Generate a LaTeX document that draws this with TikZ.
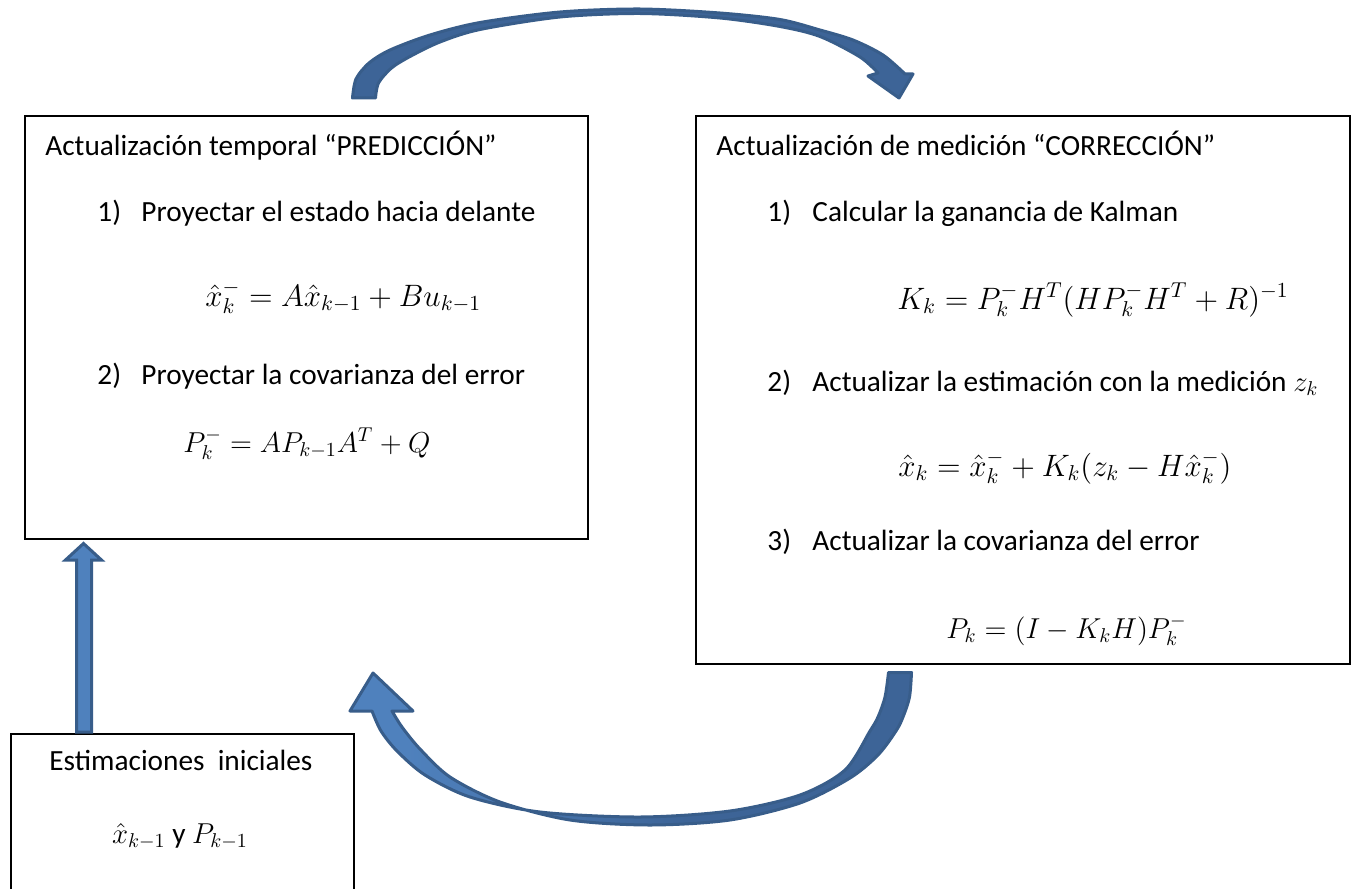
\documentclass[tikz,border=0pt]{standalone}
\usepackage[no-math]{fontspec}
\setmainfont{Carlito}[Scale=1.017]
\definecolor{arrowfill}{HTML}{4F81BD}
\definecolor{arrowdark}{HTML}{3D6497}
\definecolor{arrowline}{HTML}{385D8A}
\pgfdeclarehorizontalshading{topband}{100bp}{color(0bp)=(arrowdark); color(80bp)=(arrowdark); color(92bp)=(arrowfill); color(100bp)=(arrowfill)}
\pgfdeclarehorizontalshading{botband}{100bp}{color(0bp)=(arrowfill); color(30bp)=(arrowfill); color(55bp)=(arrowdark); color(100bp)=(arrowdark)}
\tikzset{
  box/.style={draw=black, line width=1.6pt, rectangle, inner sep=0pt, anchor=north west},
  txt/.style={anchor=base west, inner sep=0pt, scale=2, font=\fontsize{14.4}{17}\selectfont},
  ctxt/.style={anchor=base, inner sep=0pt, scale=2, font=\fontsize{14.4}{17}\selectfont},
  mth/.style={anchor=base west, inner sep=0pt, scale=2.15, font=\fontsize{14.4}{17}\selectfont},
  blockarrow/.style={draw=arrowline, line width=3pt, line join=round}
}
\begin{document}
\begin{tikzpicture}[x=1pt,y=-1pt]
\useasboundingbox (0,0) rectangle (1356,888);
\fill[white] (0,0) rectangle (1356,888);

% boxes
\node[box, minimum width=563pt, minimum height=423pt] (pred) at (24,115) {};
\node[box, minimum width=654pt, minimum height=548pt] (corr) at (695,115) {};
\node[box, minimum width=343pt, minimum height=170pt] (init) at (10,733) {};

% left box texts
\node[txt] (lt) at (45,155) {Actualización temporal “PREDICCIÓN”};
\node[txt] (l1n) at (97,221) {1)};
\node[txt] (l1) at (141,221) {Proyectar el estado hacia delante};
\node[mth] (lf1) at (205,306) {$\hat{x}_k^- = A\hat{x}_{k-1} + Bu_{k-1}$};
\node[txt] (l2n) at (97,384) {2)};
\node[txt] (l2) at (141,384) {Proyectar la covarianza del error};
\node[mth, scale=0.93] (lf2) at (183,452) {$P_k^- = AP_{k-1}A^T + Q$};

% right box texts
\node[txt] (rt) at (716,155) {Actualización de medición “CORRECCIÓN”};
\node[txt] (r1n) at (767,221) {1)};
\node[txt] (r1) at (812,221) {Calcular la ganancia de Kalman};
\node[mth] (rf1) at (897,309) {$K_k = P_k^- H^T(HP_k^- H^T + R)^{-1}$};
\node[txt] (r2n) at (767,391) {2)};
\node[txt] (r2) at (812,391) {Actualizar la estimación con la medición $z_k$};
\node[mth] (rf2) at (898,476) {$\hat{x}_k = \hat{x}_k^- + K_k(z_k - H\hat{x}_k^-)$};
\node[txt] (r3n) at (767,550) {3)};
\node[txt] (r3) at (812,550) {Actualizar la covarianza del error};
\node[mth, scale=0.93] (rf3) at (946,638) {$P_k = (I - K_kH)P_k^-$};

% initial box texts
\node[ctxt] (it) at (181,770) {Estimaciones\ \ iniciales};
\node[ctxt] (if) at (180,843) {$\hat{x}_{k-1}$ y $P_{k-1}$};

% top curved arrow
\shade[shading=topband, blockarrow]
  plot[smooth] coordinates {(352.5,98) (356,79) (369,63) (390,50) (430,35) (480,22.5) (560,12) (640,9) (720,13) (780,19.5) (820,30) (853,40) (883,55) (905,74)}
  -- (913,74) -- (899,98) -- (868,76) -- (878,73)
  -- plot[smooth] coordinates {(878,73) (860,57) (820,36.5) (780,26.5) (720,18) (640,13.5) (560,17) (480,29.5) (440,42) (410,56.5) (391.5,68) (378.5,83) (375.5,98)}
  -- cycle;

% bottom curved arrow
\shade[shading=botband, blockarrow]
  (888.5,672.5) -- (911.5,672.5)
  -- plot[smooth] coordinates {(911.5,672.5) (909.5,697) (903,717) (896,731) (878,755) (850,778) (800,803) (730,820) (650,825) (570,820) (500,802) (450,777) (420,749) (402,727) (392,711)}
  -- (413,711) -- (373,673) -- (350,711) -- (372,711)
  -- plot[smooth] coordinates {(372,711) (381,731) (397,751) (425,775) (470,797) (540,812) (640,817) (730,811) (800,795) (845,770) (870,731) (878,717) (885,697) (888.5,672.5)}
  -- cycle;

% vertical arrow
\draw[fill=arrowfill, blockarrow, line join=miter]
  (76.5,732) -- (76.5,560) -- (65.5,560) -- (83.5,543.5) -- (101.5,560) -- (91.5,560) -- (91.5,732) -- cycle;
\end{tikzpicture}
\end{document}
